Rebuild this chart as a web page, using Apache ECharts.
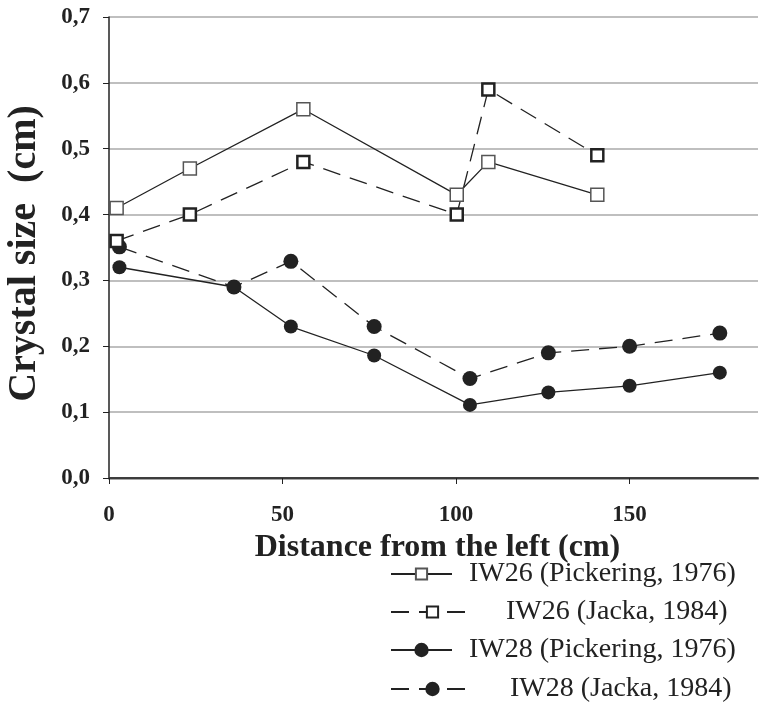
<!DOCTYPE html>
<html>
<head>
<meta charset="utf-8">
<script src="https://cdn.jsdelivr.net/npm/echarts@6/dist/echarts.min.js"></script>
<style>
  html, body { margin: 0; padding: 0; background: #fff; }
  #chart { width: 759px; height: 709px; }
</style>
</head>
<body>
<div id="chart"></div>
<script>
// distances (cm) and crystal sizes (cm)
const iw26Dist = [2.2, 23.3, 56, 100.2, 109.3, 140.7]
const iw26Pickering = [0.41, 0.47, 0.56, 0.43, 0.48, 0.43]
const iw26Jacka = [0.36, 0.40, 0.48, 0.40, 0.59, 0.49]

const iw28Dist = [3, 36, 52.4, 76.4, 104, 126.6, 150, 176]
const iw28Pickering = [0.32, 0.29, 0.23, 0.186, 0.111, 0.13, 0.14, 0.16]
const iw28Jacka = [0.351, 0.29, 0.329, 0.23, 0.151, 0.19, 0.20, 0.22]

const seriesNames = [
  'IW26 (Pickering, 1976)',
  'IW26 (Jacka, 1984)',
  'IW28 (Pickering, 1976)',
  'IW28 (Jacka, 1984)'
]
const yTicks = [0, 0.1, 0.2, 0.3, 0.4, 0.5, 0.6, 0.7]

const pair = (xs, ys) => xs.map((x, i) => [x, ys[i]])
const serif = '"Liberation Serif", "DejaVu Serif", serif'
const ink = '#222'
const dash = [18, 10]

const chart = echarts.init(document.getElementById('chart'))

function legendRow(name, top, width, height, gap) {
  return {
    left: 390,
    top: top,
    padding: 0,
    orient: 'vertical',
    data: [name],
    itemWidth: width,
    itemHeight: height,
    selectedMode: false,
    textStyle: {
      fontFamily: serif,
      fontSize: 28,
      color: ink,
      padding: [0, 0, 0, gap]
    }
  }
}

chart.setOption({
  animation: false,
  grid: {left: 109, right: 1, top: 17, bottom: 231, outerBoundsMode: 'none'},
  legend: [
    legendRow(seriesNames[0], 560, 61, 14, 12),
    legendRow(seriesNames[1], 598, 83, 14, 27),
    legendRow(seriesNames[2], 636, 61, 18, 12),
    legendRow(seriesNames[3], 675, 83, 18, 31)
  ],
  xAxis: [
    {
      type: 'value',
      min: 0,
      max: 187,
      interval: 50,
      name: 'Distance from the left (cm)',
      nameLocation: 'middle',
      nameGap: 42,
      nameTextStyle: {fontFamily: serif, fontWeight: 'bold', fontSize: 32, color: ink, padding: [0, 0, 0, 8]},
      axisLine: {onZero: false, lineStyle: {color: '#888', width: 2.5}},
      axisTick: {show: true, length: 6, lineStyle: {color: ink, width: 1}},
      axisLabel: {fontFamily: serif, fontWeight: 'bold', fontSize: 23, color: ink, margin: 26, showMaxLabel: false},
      splitLine: {show: false}
    },
    {
      // top frame line at 0,7
      type: 'value',
      position: 'top',
      min: 0,
      max: 187,
      axisLine: {show: true, lineStyle: {color: ink, width: 1.5}},
      axisTick: {show: false},
      axisLabel: {show: false},
      splitLine: {show: false}
    }
  ],
  yAxis: {
    type: 'value',
    min: 0,
    max: 0.7,
    interval: 0.1,
    name: 'Crystal size  (cm)',
    nameLocation: 'middle',
    nameGap: 64,
    nameTextStyle: {fontFamily: serif, fontWeight: 'bold', fontSize: 40, color: ink, padding: [0, 12, 0, 0]},
    axisLine: {show: true, lineStyle: {color: ink, width: 1.5}},
    axisTick: {show: true, length: 6, lineStyle: {color: ink, width: 1}},
    axisLabel: {
      fontFamily: serif, fontWeight: 'bold', fontSize: 23, color: ink, margin: 19,
      formatter: v => yTicks.includes(Math.round(v * 10) / 10) ? v.toFixed(1).replace('.', ',') : ''
    },
    splitLine: {show: true, lineStyle: {color: '#aaa', width: 1.5}}
  },
  series: [
    {
      name: seriesNames[0],
      type: 'line',
      data: pair(iw26Dist, iw26Pickering),
      symbol: 'rect',
      symbolSize: 13,
      lineStyle: {color: ink, width: 1.3},
      itemStyle: {color: '#fff', borderColor: '#555', borderWidth: 1.5},
      z: 3
    },
    {
      name: seriesNames[1],
      type: 'line',
      data: pair(iw26Dist, iw26Jacka),
      symbol: 'rect',
      symbolSize: 12,
      lineStyle: {color: ink, width: 1.3, type: dash},
      itemStyle: {color: '#fff', borderColor: ink, borderWidth: 2.5},
      z: 3
    },
    {
      name: seriesNames[2],
      type: 'line',
      data: pair(iw28Dist, iw28Pickering),
      symbol: 'circle',
      symbolSize: 14,
      lineStyle: {color: ink, width: 1.3},
      itemStyle: {color: ink},
      z: 2
    },
    {
      name: seriesNames[3],
      type: 'line',
      data: pair(iw28Dist, iw28Jacka),
      symbol: 'circle',
      symbolSize: 15,
      lineStyle: {color: ink, width: 1.3, type: dash},
      itemStyle: {color: ink},
      z: 2
    }
  ]
})
</script>
</body>
</html>
